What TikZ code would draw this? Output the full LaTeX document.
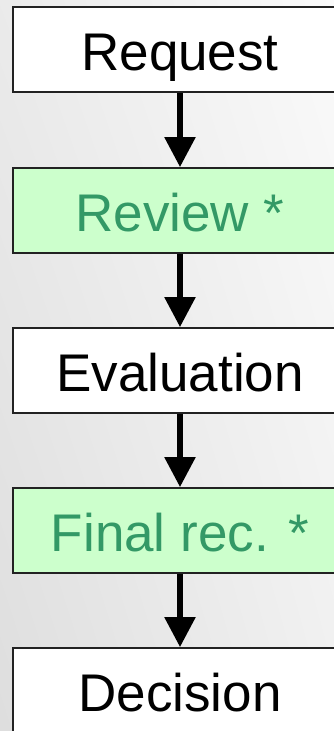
\documentclass[tikz,border=0pt]{standalone}
\usepackage{fontspec}
\setmainfont{Liberation Sans}
\usetikzlibrary{arrows.meta}
\usetikzlibrary{shadings}
\definecolor{stepgreen}{HTML}{CCFFCC}
\definecolor{textgreen}{HTML}{339966}
\definecolor{boxline}{HTML}{222222}

\begin{document}
\begin{tikzpicture}[x = 1pt, y = -1pt]
	\tikzstyle{plainStyle} = [shape = rectangle, draw = boxline, line width = 1.2pt, fill = white, minimum width = 334pt, minimum height = 85pt, inner sep = 0pt, text height = 41pt, text depth = 0pt, font = \fontsize{53}{60}\selectfont]
	\tikzstyle{starredStyle} = [plainStyle, fill = stepgreen, text = textgreen]
	\tikzstyle{flowArrow} = [line width = 5.5pt, -{Triangle[length = 30pt, width = 30pt]}, shorten <= 0.6pt, shorten >= 0.3pt]
	\useasboundingbox (0,0) rectangle (334,731);
	\clip (0,0) rectangle (334,731);
	\shade[upper left = black!8, upper right = black!2, lower left = black!13, lower right = black!6] (0,0) rectangle (334,731);
	\node[plainStyle] (n0) at (180, 49.5) {Request};
	\node[starredStyle] (n1) at (180, 210.5) {Review *};
	\node[plainStyle] (n2) at (180, 370.5) {Evaluation};
	\node[starredStyle] (n3) at (180, 530.5) {Final rec. *};
	\node[plainStyle] (n4) at (180, 690.5) {Decision};
	\draw[flowArrow] (n0) -- (n1);
	\draw[flowArrow] (n1) -- (n2);
	\draw[flowArrow] (n2) -- (n3);
	\draw[flowArrow] (n3) -- (n4);
\end{tikzpicture}
\end{document}
